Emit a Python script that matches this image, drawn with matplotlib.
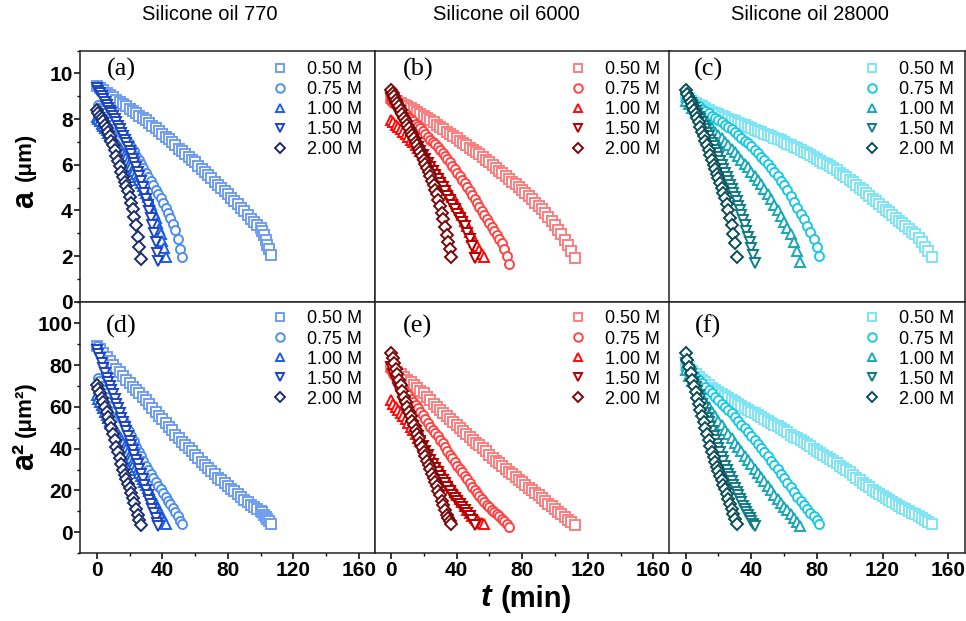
import matplotlib
matplotlib.use("Agg")
import matplotlib.pyplot as plt
from matplotlib.ticker import MultipleLocator

plt.rcParams['font.family'] = ['Liberation Sans', 'DejaVu Sans']

W, H = 966, 621

oils = ['Silicone oil 770', 'Silicone oil 6000', 'Silicone oil 28000']
labels = ['0.50 M', '0.75 M', '1.00 M', '1.50 M', '2.00 M']
markers = ['s', 'o', '^', 'v', 'D']
top_letters = ['(a)', '(b)', '(c)']
bottom_letters = ['(d)', '(e)', '(f)']

colors_770 = ['#6f9def', '#4f8fee', '#1c5fe0', '#1d45c2', '#1b2c6c']
colors_6000 = ['#fa7f7f', '#ff4545', '#ff0a0a', '#b30000', '#780808']
colors_28000 = ['#7fe5f3', '#1dc9e2', '#18a8b6', '#107c87', '#0b4d57']

# ---- Silicone oil 770: time (min) and droplet radius a (um) ----
t_770_050 = [0, 2, 4, 6, 8, 10, 12, 14, 16, 18, 20, 22, 24, 26, 28, 30, 32, 34, 36, 38, 40, 42, 44, 46, 48, 50,
             52, 54, 56, 58, 60, 62, 64, 66, 68, 70, 72, 74, 76, 78, 80, 82, 84, 86, 88, 90, 92, 94, 96, 98, 100,
             101, 102, 103, 104, 105, 106]
a_770_050 = [9.45, 9.36, 9.26, 9.15, 9.05, 8.95, 8.85, 8.75, 8.65, 8.55, 8.45, 8.35, 8.25, 8.15, 8.05, 7.95, 7.83,
             7.71, 7.59, 7.47, 7.35, 7.23, 7.11, 6.98, 6.84, 6.7, 6.58, 6.46, 6.34, 6.22, 6.1, 5.96, 5.82, 5.68,
             5.54, 5.4, 5.26, 5.12, 4.98, 4.84, 4.7, 4.56, 4.42, 4.27, 4.11, 3.95, 3.78, 3.62, 3.48, 3.36, 3.22,
             3.1, 2.9, 2.7, 2.5, 2.3, 2.05]
t_770_075 = [0, 0.5, 1.5, 3, 4.5, 6, 7.5, 9, 10.5, 12, 13.5, 15, 16.5, 18, 19.5, 21, 22.5, 24, 25.5, 27, 28.5, 30,
             31.5, 33, 34.5, 36, 37.5, 39, 40.5, 42, 43.5, 45, 46.5, 48, 49.5, 51, 52]
a_770_075 = [9.45, 8.6, 8.5, 8.38, 8.26, 8.15, 8.04, 7.92, 7.81, 7.65, 7.5, 7.38, 7.25, 7.1, 6.95, 6.78, 6.6, 6.4,
             6.21, 6.03, 5.84, 5.65, 5.46, 5.28, 5.09, 4.9, 4.71, 4.53, 4.33, 4.1, 3.88, 3.65, 3.42, 3.15, 2.75,
             2.3, 1.95]
t_770_100 = [0, 1, 2, 3, 4, 5, 6, 7, 8, 9, 10, 11, 12, 13, 14, 15, 16, 17, 18, 19, 20, 21, 22, 23, 24, 25, 26,
             27, 28, 29, 30, 31, 32, 33, 34, 35, 36, 37, 38, 39, 40, 41, 42]
a_770_100 = [8.1, 8.0, 7.9, 7.8, 7.7, 7.6, 7.5, 7.4, 7.3, 7.2, 7.12, 7.03, 6.95, 6.85, 6.75, 6.65, 6.53, 6.42,
             6.3, 6.18, 6.07, 5.95, 5.83, 5.72, 5.6, 5.47, 5.33, 5.2, 5.05, 4.9, 4.75, 4.58, 4.42, 4.25, 4.08,
             3.9, 3.68, 3.45, 3.2, 2.95, 2.65, 2.35, 1.95]
t_770_150 = [0, 1, 2, 3, 4, 5, 6, 7, 8, 9, 10, 11, 12, 13, 14, 15, 16, 17, 18, 19, 20, 21, 22, 23, 24, 25, 26,
             27, 28, 29, 30, 31, 32, 33, 34, 35, 36, 37, 37.5]
a_770_150 = [9.35, 9.23, 9.12, 9.0, 8.87, 8.73, 8.6, 8.48, 8.37, 8.25, 8.12, 7.98, 7.85, 7.7, 7.55, 7.4, 7.25,
             7.1, 6.95, 6.78, 6.62, 6.45, 6.27, 6.08, 5.9, 5.7, 5.5, 5.3, 5.03, 4.77, 4.5, 4.22, 3.95, 3.65,
             3.35, 3.0, 2.6, 2.15, 1.8]
t_770_200 = [0, 1, 2, 3, 4, 5, 6, 7, 8, 9, 10, 11, 12, 13, 14, 15, 16, 17, 18, 19, 20, 21, 22, 23, 24, 25, 26, 27]
a_770_200 = [8.4, 8.28, 8.15, 8.03, 7.9, 7.75, 7.6, 7.43, 7.25, 7.05, 6.85, 6.63, 6.4, 6.18, 5.95, 5.7, 5.45,
             5.25, 5.05, 4.83, 4.6, 4.33, 4.05, 3.72, 3.35, 2.85, 2.4, 1.85]

# ---- Silicone oil 6000 ----
t_6000_050 = [0, 2, 4, 6, 8, 10, 12, 14, 16, 18, 20, 22, 24, 26, 28, 30, 32, 34, 36, 38, 40, 42, 44, 46, 48, 50,
              52, 54, 56, 58, 60, 62, 64, 66, 68, 70, 72, 74, 76, 78, 80, 82, 84, 86, 88, 90, 92, 94, 96, 98,
              100, 102, 104, 106, 108, 110, 112]
a_6000_050 = [8.9, 8.83, 8.77, 8.7, 8.62, 8.55, 8.47, 8.39, 8.31, 8.23, 8.15, 8.05, 7.95, 7.85, 7.75, 7.65, 7.55,
              7.45, 7.35, 7.25, 7.15, 7.05, 6.95, 6.85, 6.75, 6.65, 6.55, 6.45, 6.34, 6.22, 6.1, 5.98, 5.86,
              5.74, 5.62, 5.5, 5.38, 5.26, 5.14, 5.02, 4.9, 4.76, 4.62, 4.48, 4.34, 4.2, 4.04, 3.88, 3.71, 3.53,
              3.35, 3.15, 2.95, 2.72, 2.47, 2.2, 1.9]
t_6000_075 = [0, 1.5, 3, 4.5, 6, 7.5, 9, 10.5, 12, 13.5, 15, 16.5, 18, 19.5, 21, 22.5, 24, 25.5, 27, 28.5, 30,
              31.5, 33, 34.5, 36, 37.5, 39, 40.5, 42, 43.5, 45, 46.5, 48, 49.5, 51, 52.5, 54, 55.5, 57, 58.5,
              60, 61.5, 63, 64.5, 66, 67.5, 69, 70.5, 72]
a_6000_075 = [8.8, 8.7, 8.6, 8.5, 8.4, 8.3, 8.2, 8.1, 8.0, 7.9, 7.8, 7.7, 7.6, 7.48, 7.35, 7.22, 7.1, 7.0, 6.9,
              6.78, 6.65, 6.53, 6.4, 6.25, 6.1, 5.95, 5.8, 5.65, 5.5, 5.35, 5.2, 5.03, 4.85, 4.68, 4.5, 4.33,
              4.15, 3.98, 3.8, 3.63, 3.45, 3.28, 3.1, 2.93, 2.75, 2.55, 2.3, 2.0, 1.65]
t_6000_100 = [0, 1.5, 3, 4.5, 6, 7.5, 9, 10.5, 12, 13.5, 15, 16.5, 18, 19.5, 21, 22.5, 24, 25.5, 27, 28.5, 30,
              31.5, 33, 34.5, 36, 37.5, 39, 40.5, 42, 43.5, 45, 46.5, 48, 49.5, 51, 52.5, 54, 55.5, 56.5]
a_6000_100 = [7.95, 7.85, 7.75, 7.65, 7.55, 7.45, 7.35, 7.22, 7.1, 6.98, 6.85, 6.72, 6.6, 6.48, 6.35, 6.2, 6.05,
              5.9, 5.75, 5.6, 5.45, 5.28, 5.1, 4.93, 4.75, 4.58, 4.4, 4.2, 4.0, 3.78, 3.55, 3.3, 3.05, 2.82,
              2.6, 2.43, 2.25, 2.08, 1.95]
t_6000_150 = [0, 1.5, 3, 4.5, 6, 7.5, 9, 10.5, 12, 13.5, 15, 16.5, 18, 19.5, 21, 22.5, 24, 25.5, 27, 28.5, 30,
              31.5, 33, 34.5, 36, 37.5, 39, 40.5, 42, 43.5, 45, 46.5, 48, 49.5, 51.5]
a_6000_150 = [8.9, 8.7, 8.5, 8.3, 8.1, 7.9, 7.7, 7.5, 7.3, 7.12, 6.95, 6.78, 6.6, 6.42, 6.25, 6.08, 5.9, 5.72,
              5.55, 5.38, 5.2, 5.02, 4.85, 4.65, 4.45, 4.25, 4.05, 3.85, 3.65, 3.48, 3.3, 3.03, 2.75, 2.42, 1.9]
t_6000_200 = [0, 1, 2, 3, 4, 5, 6, 7, 8, 9, 10, 11, 12, 13, 14, 15, 16, 17, 18, 19, 20, 21, 22, 23, 24, 25, 26,
              27, 28, 29, 30, 31, 32, 33, 34, 35, 36, 36.5]
a_6000_200 = [9.25, 9.13, 9.0, 8.85, 8.7, 8.55, 8.4, 8.22, 8.05, 7.9, 7.75, 7.6, 7.45, 7.3, 7.15, 7.0, 6.85,
              6.7, 6.55, 6.38, 6.2, 6.03, 5.85, 5.68, 5.5, 5.3, 5.1, 4.9, 4.7, 4.45, 4.2, 3.9, 3.6, 3.25, 2.9,
              2.6, 2.3, 1.95]

# ---- Silicone oil 28000 ----
t_28000_050 = [0, 2, 4, 6, 8, 10, 12, 14, 16, 18, 20, 22, 24, 26, 28, 30, 32, 34, 36, 38, 40, 42, 44, 46, 48,
               50, 52, 54, 56, 58, 60, 62, 64, 66, 68, 70, 72, 74, 76, 78, 80, 82, 84, 86, 88, 90, 92, 94, 96,
               98, 100, 102, 104, 106, 108, 110, 112, 114, 116, 118, 120, 122, 124, 126, 128, 130, 132, 134,
               136, 138, 140, 142, 144, 146, 148, 150]
a_28000_050 = [8.95, 8.87, 8.79, 8.71, 8.63, 8.55, 8.47, 8.39, 8.32, 8.26, 8.2, 8.14, 8.08, 8.02, 7.96, 7.9,
               7.84, 7.78, 7.72, 7.66, 7.6, 7.54, 7.48, 7.42, 7.36, 7.3, 7.24, 7.18, 7.12, 7.06, 7.0, 6.92, 6.84,
               6.77, 6.71, 6.65, 6.57, 6.49, 6.41, 6.33, 6.25, 6.17, 6.09, 6.01, 5.93, 5.85, 5.75, 5.65, 5.55,
               5.45, 5.35, 5.23, 5.11, 4.99, 4.87, 4.75, 4.63, 4.51, 4.39, 4.27, 4.15, 4.03, 3.91, 3.79, 3.67,
               3.55, 3.43, 3.31, 3.19, 3.07, 2.95, 2.78, 2.6, 2.4, 2.2, 1.95]
t_28000_075 = [0, 2, 4, 6, 8, 10, 12, 14, 16, 18, 20, 22, 24, 26, 28, 30, 32, 34, 36, 38, 40, 42, 44, 46, 48,
               50, 52, 54, 56, 58, 60, 62, 64, 66, 68, 70, 72, 74, 76, 78, 80, 81.5]
a_28000_075 = [8.85, 8.78, 8.7, 8.63, 8.55, 8.45, 8.35, 8.25, 8.15, 8.05, 7.95, 7.85, 7.75, 7.65, 7.55, 7.43,
               7.3, 7.18, 7.05, 6.93, 6.8, 6.65, 6.5, 6.35, 6.2, 6.03, 5.85, 5.68, 5.5, 5.3, 5.1, 4.88, 4.65,
               4.38, 4.1, 3.85, 3.6, 3.33, 3.05, 2.75, 2.4, 2.0]
t_28000_100 = [0, 2, 4, 6, 8, 10, 12, 14, 16, 18, 20, 22, 24, 26, 28, 30, 32, 34, 36, 38, 40, 42, 44, 46, 48,
               50, 52, 54, 56, 58, 60, 62, 64, 66, 68, 69.5]
a_28000_100 = [8.8, 8.65, 8.5, 8.35, 8.2, 8.05, 7.9, 7.75, 7.6, 7.45, 7.3, 7.15, 7.0, 6.85, 6.7, 6.54, 6.38,
               6.22, 6.05, 5.88, 5.7, 5.51, 5.32, 5.14, 4.95, 4.73, 4.5, 4.25, 4.0, 3.75, 3.5, 3.23, 2.95, 2.6,
               2.2, 1.75]
t_28000_150 = [0, 1, 2, 3, 4, 5, 6, 7, 8, 9, 10, 11, 12, 13, 14, 15, 16, 17, 18, 19, 20, 21, 22, 23, 24, 25,
               26, 27, 28, 29, 30, 31, 32, 33, 34, 35, 36, 37, 38, 39, 40, 41, 42]
a_28000_150 = [9.0, 8.9, 8.8, 8.7, 8.6, 8.48, 8.35, 8.22, 8.1, 7.98, 7.85, 7.7, 7.55, 7.4, 7.25, 7.1, 6.95,
               6.8, 6.65, 6.5, 6.35, 6.18, 6.0, 5.83, 5.65, 5.48, 5.3, 5.13, 4.95, 4.78, 4.6, 4.4, 4.2, 4.0,
               3.8, 3.58, 3.35, 3.1, 2.85, 2.6, 2.35, 2.05, 1.7]
t_28000_200 = [0, 1, 2, 3, 4, 5, 6, 7, 8, 9, 10, 11, 12, 13, 14, 15, 16, 17, 18, 19, 20, 21, 22, 23, 24, 25,
               26, 27, 28, 29, 30, 31]
a_28000_200 = [9.25, 9.08, 8.9, 8.73, 8.55, 8.38, 8.2, 8.03, 7.85, 7.65, 7.45, 7.25, 7.05, 6.85, 6.65, 6.42,
               6.2, 6.0, 5.8, 5.6, 5.4, 5.2, 5.0, 4.78, 4.55, 4.28, 4.0, 3.68, 3.35, 2.95, 2.55, 1.95]

panels = [
    ([t_770_050, t_770_075, t_770_100, t_770_150, t_770_200],
     [a_770_050, a_770_075, a_770_100, a_770_150, a_770_200], colors_770),
    ([t_6000_050, t_6000_075, t_6000_100, t_6000_150, t_6000_200],
     [a_6000_050, a_6000_075, a_6000_100, a_6000_150, a_6000_200], colors_6000),
    ([t_28000_050, t_28000_075, t_28000_100, t_28000_150, t_28000_200],
     [a_28000_050, a_28000_075, a_28000_100, a_28000_150, a_28000_200], colors_28000),
]


def fx(x):
    return x / W


def fy(y):
    return 1 - y / H


fig = plt.figure(figsize=(W / 100, H / 100), dpi=100)

lefts = [80.3, 374.5, 669.3]
width = 295.2
rows = [(50.5, 301.7), (302.4, 553.2)]
legend_x = [0.955, 0.967, 0.965]
legend_y = [(301.7 - 61.0) / 251.2, (553.2 - 310.5) / 250.8]
title_x = [210, 506, 810]
letter_x = [121, 418, 708.5]
letter_y = [69, 326]

for col in range(3):
    ts, avals, cols = panels[col]
    for row in range(2):
        top, bot = rows[row]
        ax = fig.add_axes([fx(lefts[col]), fy(bot), width / W, (bot - top) / H])
        for k in range(5):
            if row == 0:
                yv = avals[k]
            else:
                yv = [v ** 2 for v in avals[k]]  # bottom row shows a^2
            ax.plot(ts[k], yv, linestyle='none', marker=markers[k], color=cols[k],
                    markerfacecolor='white', markersize=6.5 if markers[k] != 'D' else 5.8,
                    markeredgewidth=1.4, label=labels[k])
        ax.set_xlim(-10, 170)
        if row == 0:
            ax.set_ylim(0, 11)
            ax.yaxis.set_major_locator(MultipleLocator(2))
            ax.yaxis.set_minor_locator(MultipleLocator(1))
        else:
            ax.set_ylim(-10, 110)
            ax.yaxis.set_major_locator(MultipleLocator(20))
            ax.yaxis.set_minor_locator(MultipleLocator(10))
        ax.xaxis.set_major_locator(MultipleLocator(40))
        ax.xaxis.set_minor_locator(MultipleLocator(20))
        for s in ax.spines.values():
            s.set_linewidth(1.1)
            s.set_color('#222222')
        ax.tick_params(which='major', direction='out', length=4, width=1.1, pad=1.5,
                       labelsize=15, top=False, right=False)
        ax.tick_params(which='minor', direction='out', length=2.5, width=1.0,
                       top=False, right=False)
        for lab in ax.get_xticklabels() + ax.get_yticklabels():
            lab.set_fontweight('bold')
        if row == 0:
            ax.tick_params(axis='x', which='both', bottom=False, labelbottom=False)
        if col > 0:
            ax.tick_params(axis='y', which='both', left=False, labelleft=False)
        ax.legend(loc='upper right', bbox_to_anchor=(legend_x[col], legend_y[row]),
                  frameon=False, fontsize=13, borderpad=0, borderaxespad=0,
                  handlelength=1.0, handletextpad=1.0, labelspacing=0.17,
                  numpoints=1, markerscale=0.95)
        letter = top_letters[col] if row == 0 else bottom_letters[col]
        fig.text(fx(letter_x[col]), fy(letter_y[row]), letter, ha='center', va='center',
                 fontsize=19, family='Liberation Serif')
    fig.text(fx(title_x[col]), fy(15), oils[col], ha='center', va='center', fontsize=14.5)

# y axis labels
fig.text(fx(25), fy(199), 'a', rotation=90, ha='center', va='center',
         fontsize=22, fontweight='bold')
fig.text(fx(25), fy(157), '(μm)', rotation=90, ha='center', va='center',
         fontsize=16, fontweight='bold')
fig.text(fx(25), fy(456), 'a²', rotation=90, ha='center', va='center',
         fontsize=22, fontweight='bold')
fig.text(fx(25), fy(409), '(μm²)', rotation=90, ha='center', va='center',
         fontsize=16, fontweight='bold')

# x axis label
fig.text(fx(486), fy(598), 't', ha='center', va='center', fontsize=23,
         fontweight='bold', fontstyle='italic')
fig.text(fx(536), fy(599), '(min)', ha='center', va='center', fontsize=21,
         fontweight='bold')

fig.savefig('out.png', dpi=100)
